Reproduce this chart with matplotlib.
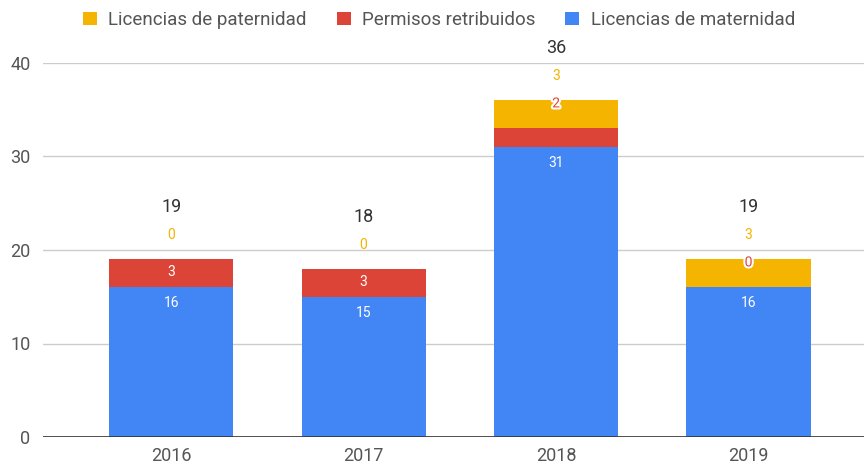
import matplotlib
matplotlib.use("Agg")
import matplotlib.pyplot as plt
import matplotlib.patheffects as pe
import numpy as np

plt.rcParams['font.family'] = ['Roboto', 'DejaVu Sans']

years = ['2016', '2017', '2018', '2019']
maternidad = [16, 15, 31, 16]
permisos = [3, 3, 2, 0]
paternidad = [0, 0, 3, 3]

c_mat = '#4285F4'
c_per = '#DB4437'
c_pat = '#F4B400'

fig = plt.figure(figsize=(8.64, 4.67), dpi=100)
ax = fig.add_axes([43/864, 1-437/467, 1-43/864, (437-63)/467])

x = np.arange(len(years))
w = 0.645
mat = np.array(maternidad)
per = np.array(permisos)
pat = np.array(paternidad)
tot = mat + per + pat

ax.bar(x, mat, w, color=c_mat, zorder=3, label='Licencias de maternidad')
ax.bar(x, per, w, bottom=mat, color=c_per, zorder=3, label='Permisos retribuidos')
ax.bar(x, pat, w, bottom=mat + per, color=c_pat, zorder=3, label='Licencias de paternidad')

ax.set_xlim(-0.666, 3.60)
ax.set_ylim(0, 40)
ax.set_yticks([0, 10, 20, 30, 40])
ax.yaxis.grid(True, color='#cccccc', linewidth=1, zorder=0)
ax.axhline(0, color='#333333', linewidth=1.2, zorder=4)
for s in ax.spines.values():
    s.set_visible(False)
ax.tick_params(length=0, labelsize=13, colors='#555555')
ax.tick_params(axis='y', pad=9)
ax.tick_params(axis='x', pad=7)
ax.set_xticks(x)
ax.set_xticklabels(years)

halo = [pe.withStroke(linewidth=3, foreground='white')]
lab = dict(textcoords='offset pixels', ha='center', va='center', fontsize=10,
           zorder=5, annotation_clip=False)
for i in x:
    # maternidad, inside top
    ax.annotate(str(mat[i]), (i, mat[i]), xytext=(0, -16), color='white', **lab)
    # permisos
    if per[i] >= 3:
        ax.annotate(str(per[i]), (i, mat[i] + per[i]), xytext=(0, -13), color='white', **lab)
    else:
        ax.annotate(str(per[i]), (i, tot[i]), xytext=(0, -3), color=c_per,
                    path_effects=halo, **lab)
    # paternidad, above
    ax.annotate(str(pat[i]), (i, tot[i]), xytext=(0, 24), color=c_pat, **lab)
    # total
    lab_t = dict(lab, fontsize=13)
    ax.annotate(str(tot[i]), (i, tot[i]), xytext=(0, 52), color='#333333', **lab_t)

h, l = ax.get_legend_handles_labels()
fig.legend(h[::-1], l[::-1], loc='center', bbox_to_anchor=(0.508, 1-20/467), ncol=3,
           frameon=False, fontsize=13.5, labelcolor='#555555', handlelength=0.75,
           handleheight=0.75, handletextpad=0.6, columnspacing=1.6)

fig.savefig('out.png', dpi=100)
